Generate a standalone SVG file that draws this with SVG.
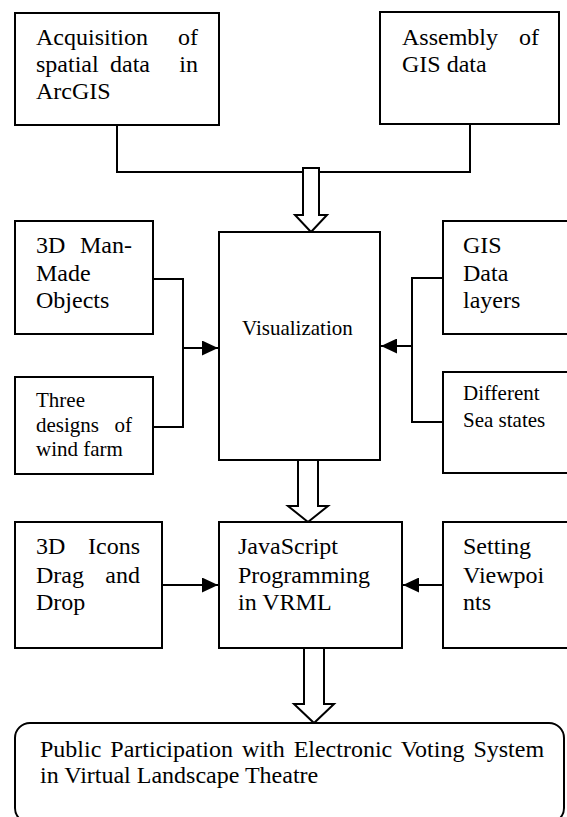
<svg xmlns="http://www.w3.org/2000/svg" width="567" height="817" viewBox="0 0 567 817" font-family="'Liberation Serif', 'Times New Roman', Times, serif">
<style>
.box{fill:#fff;stroke:#000;stroke-width:2}
.ln{fill:none;stroke:#000;stroke-width:2}
.ha{fill:#fff;stroke:#000;stroke-width:2;stroke-linejoin:miter}
.t{font-size:24px;font-family:'Liberation Serif', 'Times New Roman', Times, serif;fill:#000}
.s{font-size:21px;font-family:'Liberation Serif', 'Times New Roman', Times, serif;fill:#000}
</style>
<defs>
<marker id="ah" viewBox="0 0 16 15" refX="16" refY="7.5" markerWidth="16" markerHeight="15" markerUnits="userSpaceOnUse" orient="auto">
<path d="M0,0 L16,7.5 L0,15 z" fill="#000"/>
</marker>
</defs>
<g id="connectors">
<path class="ln" d="M117,125 V172 H303"/>
<path class="ln" d="M470,124 V172 H319"/>
<path class="ln" d="M148,279 H183 V427 H148"/>
<path class="ln" d="M183,348 H218" marker-end="url(#ah)"/>
<path class="ln" d="M443,278 H412 V422 H443"/>
<path class="ln" d="M412,346 H381" marker-end="url(#ah)"/>
<path class="ln" d="M162,585 H218" marker-end="url(#ah)"/>
<path class="ln" d="M443,585 H403" marker-end="url(#ah)"/>
<polygon class="ha" points="303,168 319,168 319,215 327,215 311,232 295,215 303,215"/>
<polygon class="ha" points="298,460 318,460 318,506 328,506 308,522 288,506 298,506"/>
<polygon class="ha" points="304,648 324,648 324,704 334,704 314,723 294,704 304,704"/>
</g>
<g id="acquisition">
<rect class="box" x="15" y="13" width="204" height="112"/>
<text class="t" x="36" y="45">Acquisition</text>
<text class="t" x="198" y="45" text-anchor="end">of</text>
<text class="t" x="36" y="72">spatial</text>
<text class="t" x="110" y="72">data</text>
<text class="t" x="198" y="72" text-anchor="end">in</text>
<text class="t" x="36" y="99">ArcGIS</text>
</g>
<g id="assembly">
<rect class="box" x="380" y="12" width="179" height="112"/>
<text class="t" x="402" y="45">Assembly</text>
<text class="t" x="539" y="45" text-anchor="end">of</text>
<text class="t" x="402" y="72">GIS data</text>
</g>
<g id="manmade">
<rect class="box" x="15" y="221" width="138" height="113"/>
<text class="t" x="36" y="253">3D</text>
<text class="t" x="132" y="253" text-anchor="end">Man-</text>
<text class="t" x="36" y="281">Made</text>
<text class="t" x="36" y="308">Objects</text>
</g>
<g id="threedesigns">
<rect class="box" x="15" y="377" width="138" height="97"/>
<text class="s" x="36" y="407">Three</text>
<text class="s" x="36" y="432">designs</text>
<text class="s" x="132" y="432" text-anchor="end">of</text>
<text class="s" x="36" y="456">wind farm</text>
</g>
<g id="visualization">
<rect class="box" x="219" y="232" width="161" height="228"/>
<text class="s" x="242" y="335">Visualization</text>
</g>
<g id="gislayers">
<rect class="box" x="443" y="221" width="130" height="113"/>
<text class="t" x="463" y="253">GIS</text>
<text class="t" x="463" y="281">Data</text>
<text class="t" x="463" y="308">layers</text>
</g>
<g id="seastates">
<rect class="box" x="443" y="372" width="130" height="101"/>
<text class="s" x="463" y="400">Different</text>
<text class="s" x="463" y="427">Sea states</text>
</g>
<g id="icons">
<rect class="box" x="15" y="522" width="147" height="126"/>
<text class="t" x="36" y="554">3D</text>
<text class="t" x="140" y="554" text-anchor="end">Icons</text>
<text class="t" x="36" y="583">Drag</text>
<text class="t" x="140" y="583" text-anchor="end">and</text>
<text class="t" x="36" y="610">Drop</text>
</g>
<g id="javascript">
<rect class="box" x="219" y="522" width="183" height="126"/>
<text class="t" x="238" y="554">JavaScript</text>
<text class="t" x="238" y="583">Programming</text>
<text class="t" x="238" y="610">in VRML</text>
</g>
<g id="viewpoints">
<rect class="box" x="443" y="522" width="130" height="126"/>
<text class="t" x="463" y="554">Setting</text>
<text class="t" x="463" y="583">Viewpoi</text>
<text class="t" x="463" y="610">nts</text>
</g>
<g id="participation">
<rect class="box" x="15" y="723" width="549" height="100" rx="15"/>
<text class="t" x="40" y="757" word-spacing="3">Public Participation with Electronic Voting System</text>
<text class="t" x="40" y="783">in Virtual Landscape Theatre</text>
</g>
</svg>
